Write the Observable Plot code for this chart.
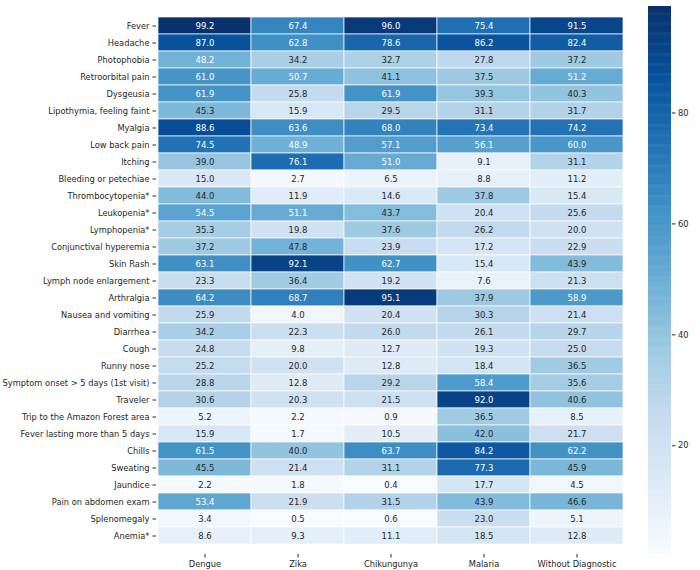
<!DOCTYPE html>
<html>
<head>
<meta charset="utf-8">
<script src="https://cdn.jsdelivr.net/npm/d3@7"></script>
<script src="https://cdn.jsdelivr.net/npm/@observablehq/plot@0.6"></script>
<style>
  html, body { margin: 0; padding: 0; background: white; }
  #wrap { position: relative; width: 700px; height: 570px; }
  #wrap > svg { position: absolute; top: 0; overflow: visible; }
</style>
</head>
<body>
<div id="wrap"></div>
<script>
const symptoms = ["Fever", "Headache", "Photophobia", "Retroorbital pain", "Dysgeusia",
  "Lipothymia, feeling faint", "Myalgia", "Low back pain", "Itching", "Bleeding or petechiae",
  "Thrombocytopenia*", "Leukopenia*", "Lymphopenia*", "Conjunctival hyperemia", "Skin Rash",
  "Lymph node enlargement", "Arthralgia", "Nausea and vomiting", "Diarrhea", "Cough",
  "Runny nose", "Symptom onset > 5 days (1st visit)", "Traveler", "Trip to the Amazon Forest area",
  "Fever lasting more than 5 days", "Chills", "Sweating", "Jaundice", "Pain on abdomen exam",
  "Splenomegaly", "Anemia*"];
const diagnoses = ["Dengue", "Zika", "Chikungunya", "Malaria", "Without Diagnostic"];
const dengue = [99.2, 87.0, 48.2, 61.0, 61.9, 45.3, 88.6, 74.5, 39.0, 15.0, 44.0, 54.5, 35.3, 37.2, 63.1, 23.3, 64.2, 25.9, 34.2, 24.8, 25.2, 28.8, 30.6, 5.2, 15.9, 61.5, 45.5, 2.2, 53.4, 3.4, 8.6];
const zika = [67.4, 62.8, 34.2, 50.7, 25.8, 15.9, 63.6, 48.9, 76.1, 2.7, 11.9, 51.1, 19.8, 47.8, 92.1, 36.4, 68.7, 4.0, 22.3, 9.8, 20.0, 12.8, 20.3, 2.2, 1.7, 40.0, 21.4, 1.8, 21.9, 0.5, 9.3];
const chikungunya = [96.0, 78.6, 32.7, 41.1, 61.9, 29.5, 68.0, 57.1, 51.0, 6.5, 14.6, 43.7, 37.6, 23.9, 62.7, 19.2, 95.1, 20.4, 26.0, 12.7, 12.8, 29.2, 21.5, 0.9, 10.5, 63.7, 31.1, 0.4, 31.5, 0.6, 11.1];
const malaria = [75.4, 86.2, 27.8, 37.5, 39.3, 31.1, 73.4, 56.1, 9.1, 8.8, 37.8, 20.4, 26.2, 17.2, 15.4, 7.6, 37.9, 30.3, 26.1, 19.3, 18.4, 58.4, 92.0, 36.5, 42.0, 84.2, 77.3, 17.7, 43.9, 23.0, 18.5];
const withoutDiagnostic = [91.5, 82.4, 37.2, 51.2, 40.3, 31.7, 74.2, 60.0, 31.1, 11.2, 15.4, 25.6, 20.0, 22.9, 43.9, 21.3, 58.9, 21.4, 29.7, 25.0, 36.5, 35.6, 40.6, 8.5, 21.7, 62.2, 45.9, 4.5, 46.6, 5.1, 12.8];
const colorbarTicks = [20, 40, 60, 80];

const series = [dengue, zika, chikungunya, malaria, withoutDiagnostic];
const data = [];
symptoms.forEach((s, i) => diagnoses.forEach((g, j) => data.push({symptom: s, diagnosis: g, value: series[j][i]})));

const vmin = d3.min(data, d => d.value), vmax = d3.max(data, d => d.value);
const blues = ["#f7fbff","#deebf7","#c6dbef","#9ecae1","#6baed6","#4292c6","#2171b5","#08519c","#08306b"];
const colorOpts = {
  type: "linear",
  domain: blues.map((_, i) => vmin + i * (vmax - vmin) / (blues.length - 1)),
  range: blues,
  interpolate: "rgb"
};
const colorOf = (v) => {
  const t = (v - vmin) / (vmax - vmin) * 8;
  const k = Math.min(7, Math.floor(t));
  return d3.interpolateRgb(blues[k], blues[k + 1])(t - k);
};
const lum = (c) => {
  const rgb = d3.rgb(c);
  const f = (x) => { x /= 255; return x <= 0.03928 ? x / 12.92 : Math.pow((x + 0.055) / 1.055, 2.4); };
  return 0.2126 * f(rgb.r) + 0.7152 * f(rgb.g) + 0.0722 * f(rgb.b);
};

const font = "DejaVu Sans, sans-serif";
const textDark = "#262626";

const heat = Plot.plot({
  width: 630, height: 570,
  marginLeft: 156, marginRight: 6, marginTop: 6, marginBottom: 16,
  style: {fontFamily: font, fontSize: "8.3px", color: textDark, background: "transparent", overflow: "visible"},
  x: {domain: diagnoses, padding: 0, label: null, tickSize: 3.5, tickPadding: 3},
  y: {domain: symptoms, padding: 0, label: null, tickSize: 3.5, tickPadding: 3.5},
  color: colorOpts,
  marks: [
    Plot.cell(data, {x: "diagnosis", y: "symptom", fill: "value", stroke: "white", strokeWidth: 0.7}),
    Plot.text(data, {x: "diagnosis", y: "symptom", text: d => d.value.toFixed(1),
      fill: d => lum(colorOf(d.value)) > 0.408 ? textDark : "white", fontSize: 8.5})
  ]
});
heat.style.left = "0px";

const steps = d3.range(vmin, vmax, 0.2);
const bar = Plot.plot({
  width: 70, height: 570,
  marginLeft: 18, marginRight: 29, marginTop: 6, marginBottom: 16,
  style: {fontFamily: font, fontSize: "8.3px", color: textDark, background: "transparent"},
  x: {domain: [0, 1], axis: null},
  y: {domain: [vmin, vmax], axis: "right", ticks: colorbarTicks, tickSize: 3.5, tickPadding: 3, label: null},
  color: colorOpts,
  marks: [
    Plot.rect(steps, {x1: () => 0, x2: () => 1, y1: d => d, y2: d => Math.min(vmax, d + 0.3), fill: d => d + 0.1})
  ]
});
bar.style.left = "630px";

const wrap = document.getElementById("wrap");
wrap.appendChild(heat);
wrap.appendChild(bar);
</script>
</body>
</html>
